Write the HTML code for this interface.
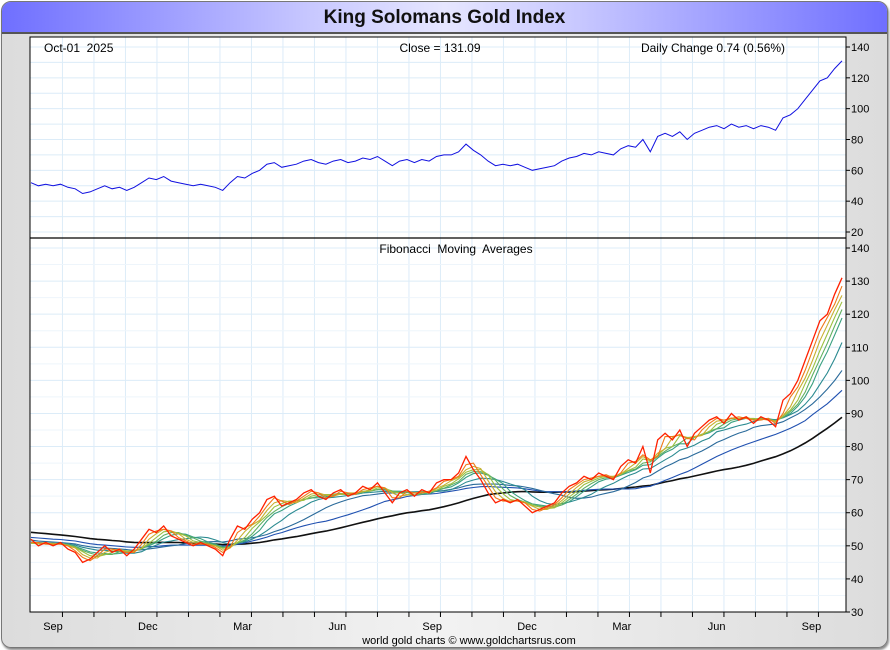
<!DOCTYPE html>
<html><head><meta charset="utf-8">
<style>
body{margin:0;width:890px;height:650px;overflow:hidden;background:#fff;font-family:"Liberation Sans",sans-serif}
#frame{position:absolute;left:1px;top:1px;width:885px;height:645px;border:1px solid #777;border-radius:10px;background:linear-gradient(90deg,#dcdcdc,#f2f2f2 50%,#dcdcdc);box-shadow:1px 2px 2px #888;overflow:hidden}
#title{position:absolute;left:0;top:0;width:885px;height:30px;background:linear-gradient(90deg,#6f6fff,#c8c8ff 35%,#e6e6ff 50%,#c8c8ff 65%,#6f6fff);border-bottom:2px solid #555;text-align:center;font-weight:bold;font-size:19px;line-height:32px;color:#111}
svg{position:absolute;left:0;top:0}
svg text{white-space:pre}
</style></head><body>
<div id="frame">
<div id="title">King Solomans Gold Index</div>
</div>
<svg id="c" width="890" height="650"></svg>
<script>
const prior=[60,61,61,62,61,60,61,60,59,60,59,58,59,58,57,58,57,58,57,56,57,56,55,56,55,56,55,54,55,54,53,54,53,54,55,54,53,52,53,52,51,52,51,52,51,50,51,50];
const values=[52,50, 51,50,51,49, 48,45,46,48, 50,48,49,47,49, 52,55,54,56, 53,52,51,50, 51,50,49,47, 52,56,55,58,60, 64,65,62,63, 64,66,67,65, 64,66,67,65, 66,68,67,69,66, 63,66,67,65, 67,66,69,70, 70,72,77,73,70, 66,63,64,63, 64,62,60,61,62, 63,66,68,69, 71,70,72,71, 70,74,76,75,80, 72,82,84,82, 85,80,84,86, 88,89,87,90,88, 89,87,89,88, 86,94,96,100,106, 112,118,120,126,131];
const months=["Sep","Dec","Mar","Jun","Sep","Dec","Mar","Jun","Sep"];
const topTicks=[20,40,60,80,100,120,140];
const botTicks=[30,40,50,60,70,80,90,100,110,120,130,140];
const maPeriods=[2,3,4,5,6,9,14,22,36];
const maColors=["#f07818","#c8b030","#9cc040","#60b060","#3aa080","#2a8a90","#2a6a9a","#2050b0","#111111"];
const S=document.getElementById('c'),NS="http://www.w3.org/2000/svg";
const X0=31,X1=842,PR=846;
function el(t,a,p){const e=document.createElementNS(NS,t);for(const k in a)e.setAttribute(k,a[k]);(p||S).appendChild(e);return e;}
function xOf(i){return X0+i/(values.length-1)*(X1-X0);}
function yTop(v){return 232-(v-20)/120*185;}
function yBot(v){return 612-(v-30)/110*364;}
const bg=el('rect',{x:30,y:37,width:PR-30,height:575,fill:'#fff'});

for(let m=0;m<26;m++){const x=53+(m-0.7)*31.5; if(x<31||x>PR)continue;
 el('line',{x1:x,x2:x,y1:37,y2:612,stroke:'#dcecf8','stroke-width':1});
 el('line',{x1:x,x2:x,y1:612,y2:617,stroke:'#000'});}
for(let v=20;v<=140;v+=10)el('line',{x1:30,x2:PR,y1:yTop(v),y2:yTop(v),stroke:'#dcecf8'});
for(let v=30;v<=140;v+=5)el('line',{x1:30,x2:PR,y1:yBot(v),y2:yBot(v),stroke:v%10?'#eef5fb':'#dcecf8'});
el('rect',{x:30,y:37,width:PR-30,height:575,fill:'none',stroke:'#000'});
el('line',{x1:30,x2:PR,y1:238,y2:238,stroke:'#000','stroke-width':1.2});
topTicks.forEach(v=>{const y=yTop(v);el('line',{x1:PR,x2:PR+4,y1:y,y2:y,stroke:'#000'});
 const t=el('text',{x:851,y:y+4,'font-size':11,fill:'#000'});t.textContent=v;
 });
botTicks.forEach(v=>{const y=yBot(v);el('line',{x1:PR,x2:PR+4,y1:y,y2:y,stroke:'#000'});
 const t=el('text',{x:851,y:y+4,'font-size':11,fill:'#000'});t.textContent=v;
 });
months.forEach((m,i)=>{const x=53+i*94.8;const t=el('text',{x:x,y:630,'font-size':11,'text-anchor':'middle'});t.textContent=m;
 });
function txt(s,x,y,a,n,fs){const t=el('text',{x:x,y:y,'font-size':fs||12,'text-anchor':a});t.textContent=s;
 }
txt('Oct-01  2025',44,52,'start','date-label');
txt('Close = 131.09',440,52,'middle','close-label');
txt('Daily Change 0.74 (0.56%)',713,52,'middle','daily-change-label');
txt('Fibonacci  Moving  Averages',456,253,'middle','ma-panel-title');
txt('world gold charts \u00a9 www.goldchartsrus.com',469,644,'middle','footer-credit',11);
const pts=values.map((v,i)=>xOf(i).toFixed(1)+','+yTop(v).toFixed(1)).join(' ');
const tl=el('polyline',{points:pts,fill:'none',stroke:'#1010e0','stroke-width':1});

const all=prior.concat(values),P=prior.length;
for(let k=maPeriods.length-1;k>=0;k--){const n=maPeriods[k];const ps=[];
 for(let i=0;i<values.length;i++){let s=0;for(let j=0;j<n;j++)s+=all[P+i-j];ps.push(xOf(i).toFixed(1)+','+yBot(s/n).toFixed(1));}
 const l=el('polyline',{points:ps.join(' '),fill:'none',stroke:maColors[k],'stroke-width':k==8?1.6:1.1});
 }
const pl=el('polyline',{points:values.map((v,i)=>xOf(i).toFixed(1)+','+yBot(v).toFixed(1)).join(' '),fill:'none',stroke:'#ff2000','stroke-width':1.3});

</script>
</body></html>
